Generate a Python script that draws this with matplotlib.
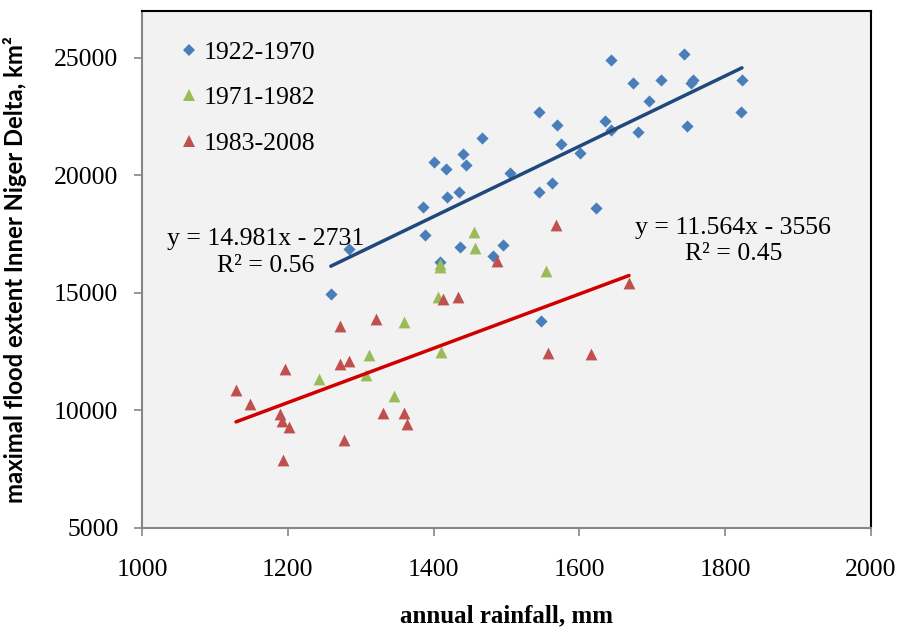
import matplotlib
matplotlib.use("Agg")
import matplotlib.pyplot as plt
from matplotlib.lines import Line2D
import numpy as np

# ---- data ----
rain_1922_1970 = [1259, 1284, 1385, 1388, 1401, 1409, 1417, 1418, 1435, 1436,
                  1440, 1445, 1467, 1482, 1495, 1505, 1545, 1545, 1547, 1562,
                  1569, 1575, 1601, 1623, 1635, 1643, 1644, 1674, 1681, 1695,
                  1712, 1744, 1747, 1753, 1756, 1822, 1823]
flood_1922_1970 = [14930, 16870, 18650, 17470, 20560, 16330, 20270, 19060, 19300, 16930,
                   20930, 20450, 21610, 16580, 17040, 20120, 22710, 19270, 13780, 19660,
                   22160, 21340, 20950, 18600, 22320, 24910, 21920, 23950, 21840, 23170,
                   24060, 25180, 22090, 23950, 24080, 22700, 24060]

rain_1971_1982 = [1243, 1307, 1312, 1346, 1359, 1406, 1409, 1409, 1410, 1455, 1457, 1554]
flood_1971_1982 = [11310, 11480, 12360, 10600, 13770, 14810, 16230, 16090, 12470, 17570, 16890, 15910]

rain_1983_2008 = [1129, 1148, 1189, 1192, 1194, 1196, 1201, 1271, 1271, 1277, 1284,
                  1321, 1331, 1360, 1363, 1413, 1433, 1487, 1557, 1568, 1616, 1668]
flood_1983_2008 = [10870, 10250, 9820, 9540, 7870, 11730, 9280, 13590, 11950, 8720, 12080,
                   13890, 9870, 9870, 9390, 14740, 14810, 16340, 12430, 17900, 12370, 15400]

series_labels = ["1922-1970", "1971-1982", "1983-2008"]

# trendline coefficients (as printed on the chart)
trend_early = (14.981, -2731)
trend_late = (11.564, -3556)
eq_early = "y = 14.981x - 2731\nR² = 0.56"
eq_late = "y = 11.564x - 3556\nR² = 0.45"

x_ticks = [1000, 1200, 1400, 1600, 1800, 2000]
y_ticks = [5000, 10000, 15000, 20000, 25000]

# ---- style ----
c_blue = "#4A7EBB"
c_green = "#9BBB59"
c_red = "#C0504D"
c_blue_line = "#1F497D"
c_red_line = "#D10000"
serif = ["Liberation Serif", "DejaVu Serif"]

fig = plt.figure(figsize=(8.99, 6.30), dpi=100)
ax = fig.add_axes([142/899, 1 - 527.5/630, (871-142)/899, (527.5-11)/630])
ax.set_facecolor("#F2F2F2")

ax.scatter(rain_1922_1970, flood_1922_1970, marker="D", s=6.2**2, color=c_blue,
           linewidths=0, zorder=3)
ax.scatter(rain_1971_1982, flood_1971_1982, marker="^", s=8.5**2, color=c_green,
           linewidths=0, zorder=3)
ax.scatter(rain_1983_2008, flood_1983_2008, marker="^", s=8.5**2, color=c_red,
           linewidths=0, zorder=3)

xe = np.array([min(rain_1922_1970), max(rain_1922_1970)], dtype=float)
ax.plot(xe, trend_early[0]*xe + trend_early[1], color=c_blue_line, lw=2.5,
        solid_capstyle="round", zorder=4)
xl = np.array([min(rain_1983_2008), max(rain_1983_2008)], dtype=float)
ax.plot(xl, trend_late[0]*xl + trend_late[1], color=c_red_line, lw=2.5,
        solid_capstyle="round", zorder=4)

ax.text(1169, 16700, eq_early, ha="center", va="center", multialignment="center",
        fontsize=18.5, family=serif, linespacing=1.28, zorder=5)
ax.text(1811, 17200, eq_late, ha="center", va="center", multialignment="center",
        fontsize=18.5, family=serif, linespacing=1.28, zorder=5)

ax.set_xlim(1000, 2000)
ax.set_ylim(5000, 27000)
ax.set_xticks(x_ticks)
ax.set_yticks(y_ticks)
ax.set_xticklabels([str(v) for v in x_ticks], family=serif, fontsize=18.5)
ax.set_yticklabels([str(v) for v in y_ticks], family=serif, fontsize=18.5)
ax.tick_params(axis="both", direction="out", length=6, width=1.2, color="#868686")
ax.tick_params(axis="x", pad=17)
ax.tick_params(axis="y", pad=11)

for s in ["top", "right"]:
    ax.spines[s].set_color("black")
    ax.spines[s].set_linewidth(1.5)
for s in ["left", "bottom"]:
    ax.spines[s].set_color("#868686")
    ax.spines[s].set_linewidth(1.5)

ax.set_xlabel("annual rainfall, mm", family=serif, fontweight="bold", fontsize=18)
ax.xaxis.set_label_coords(0.5, -0.148)
ax.set_ylabel("maximal flood extent Inner Niger Delta, km²", family=["Lato", "DejaVu Sans"],
              fontweight="bold", fontsize=17.2)
ax.yaxis.set_label_coords(-0.158, 0.5)

handles = [
    Line2D([], [], marker="D", color=c_blue, ls="none", markersize=6.5, markeredgewidth=0),
    Line2D([], [], marker="^", color=c_green, ls="none", markersize=9, markeredgewidth=0),
    Line2D([], [], marker="^", color=c_red, ls="none", markersize=9, markeredgewidth=0),
]
ax.legend(handles, series_labels, loc="upper left", bbox_to_anchor=(0.040, 0.962),
          frameon=False, prop={"family": serif, "size": 18.5}, handlelength=0.6,
          handletextpad=0.25, labelspacing=0.88, borderaxespad=0)

fig.savefig("out.png", dpi=100, facecolor="white")
